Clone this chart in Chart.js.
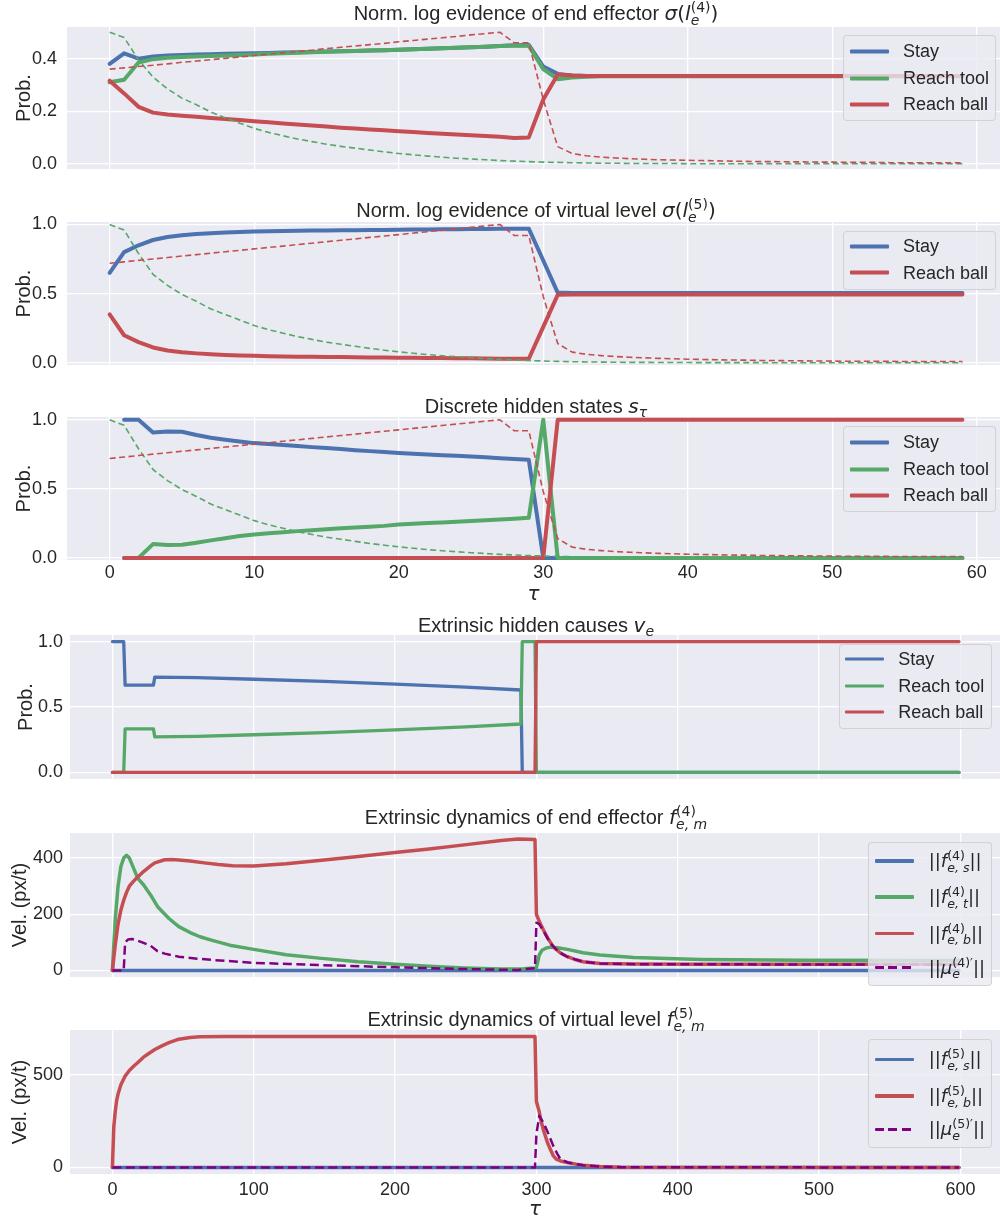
<!DOCTYPE html>
<html>
<head>
<meta charset="utf-8">
<title>Evidence, hidden states and dynamics</title>
<script src="https://cdn.jsdelivr.net/npm/chart.js@4.4.0/dist/chart.umd.min.js"></script>
<style>
  html, body { margin: 0; padding: 0; background: #fff; overflow: hidden; }
  #fig { position: relative; width: 1000px; height: 1218px; }
  canvas { position: absolute; left: 0; }
  .ttl {
    position: absolute; left: 536px; transform: translateX(-50%);
    white-space: nowrap; font: 20px 'Liberation Sans', Arial, sans-serif;
    line-height: 20px; color: #262626;
  }
  .m { font-family: 'DejaVu Sans', sans-serif; }
  .i { font-style: italic; }
  .ss { display: inline-grid; font-size: 70%; line-height: 1; }
  .ss > span { grid-area: 1 / 1; position: relative; }
  .ss .sp { top: -0.55em; }
  .ss .sb { top: 0.36em; }
  .sub1 { position: relative; top: 0.3em; font-size: 70%; line-height: 1; }
  .leg {
    position: absolute; box-sizing: border-box;
    background: rgba(234, 234, 242, 0.8);
    border: 1px solid rgba(204, 204, 204, 0.8); border-radius: 4px;
    font: 18px 'Liberation Sans', Arial, sans-serif; color: #262626;
  }
  .row { position: absolute; left: 0; display: flex; align-items: center; transform: translateY(-50%); white-space: nowrap; }
  .mk { width: 39px; border-radius: 1px; }
</style>
</head>
<body>
<div id="fig">
  <canvas id="c1" width="1000" height="166" style="top:15px"></canvas>
  <canvas id="c2" width="1000" height="167" style="top:210px"></canvas>
  <canvas id="c3" width="1000" height="202" style="top:405px"></canvas>
  <canvas id="c4" width="1000" height="168" style="top:623px"></canvas>
  <canvas id="c5" width="1000" height="168" style="top:821px"></canvas>
  <canvas id="c6" width="1000" height="204" style="top:1018px"></canvas>

  <div class="ttl" style="top:3px">Norm. log evidence of end effector <span class="m"><span class="i">σ</span>(<span class="i">l</span><span class="ss"><span class="sp">(4)</span><span class="sb i">e</span></span>)</span></div>
  <div class="ttl" style="top:199.5px">Norm. log evidence of virtual level <span class="m"><span class="i">σ</span>(<span class="i">l</span><span class="ss"><span class="sp">(5)</span><span class="sb i">e</span></span>)</span></div>
  <div class="ttl" style="top:396px">Discrete hidden states <span class="m"><span class="i">s</span><span class="sub1 i">τ</span></span></div>
  <div class="ttl" style="top:614.7px">Extrinsic hidden causes <span class="m"><span class="i">v</span><span class="sub1 i">e</span></span></div>
  <div class="ttl" style="top:807px">Extrinsic dynamics of end effector <span class="m"><span class="i">f</span><span class="ss"><span class="sp">(4)</span><span class="sb i">e, m</span></span></span></div>
  <div class="ttl" style="top:1009px">Extrinsic dynamics of virtual level <span class="m"><span class="i">f</span><span class="ss"><span class="sp">(5)</span><span class="sb i">e, m</span></span></span></div>

  <div id="legends"></div>
</div>

<script>
// colours (seaborn "deep")
var BLUE = '#4C72B0', GREEN = '#55A868', RED = '#C44E52', PURPLE = '#800080';
var INK = '#262626';
var FONT = "'Liberation Sans', Arial, sans-serif";

// tick positions
var tauTicksShort = [0, 10, 20, 30, 40, 50, 60];
var tauTicksLong = [0, 100, 200, 300, 400, 500, 600];
var probTicksLow = [0, 0.2, 0.4];
var probTicks = [0, 0.5, 1];
var velTicks4 = [0, 200, 400];
var velTicks5 = [0, 500];

// ---------- panels 1-3: tau = 0..59 ----------
var tauShort = [0,1,2,3,4,5,6,7,8,9,10,11,12,13,14,15,16,17,18,19,20,21,22,23,24,25,26,27,28,29,
  30,31,32,33,34,35,36,37,38,39,40,41,42,43,44,45,46,47,48,49,50,51,52,53,54,55,56,57,58,59];

// panel 1: norm. log evidence of end effector
var stay1 = [0.38,0.42,0.40,0.408,0.412,0.414,0.416,0.417,0.418,0.419,
  0.42,0.421,0.423,0.424,0.425,0.427,0.428,0.429,0.431,0.432,
  0.434,0.436,0.437,0.439,0.441,0.443,0.445,0.448,0.451,0.452,
  0.37,0.342,0.336,0.334,0.334,0.334,0.334,0.334,0.334,0.334,
  0.334,0.334,0.334,0.334,0.334,0.334,0.334,0.334,0.334,0.334,
  0.334,0.334,0.334,0.334,0.334,0.334,0.334,0.334,0.334,0.334];
var tool1 = [0.31,0.32,0.385,0.398,0.403,0.406,0.408,0.41,0.412,0.414,
  0.416,0.418,0.42,0.422,0.424,0.426,0.428,0.429,0.431,0.432,
  0.434,0.436,0.437,0.439,0.441,0.443,0.445,0.448,0.45,0.449,
  0.36,0.322,0.328,0.331,0.333,0.333,0.333,0.333,0.333,0.333,
  0.333,0.333,0.333,0.333,0.333,0.333,0.333,0.333,0.333,0.333,
  0.333,0.333,0.333,0.333,0.333,0.333,0.333,0.333,0.333,0.333];
var ball1 = [0.316,0.268,0.217,0.195,0.188,0.183,0.179,0.175,0.171,0.167,
  0.162,0.158,0.154,0.150,0.146,0.142,0.138,0.135,0.131,0.128,
  0.124,0.121,0.118,0.115,0.112,0.109,0.106,0.103,0.099,0.101,
  0.245,0.340,0.336,0.334,0.334,0.334,0.334,0.334,0.334,0.334,
  0.334,0.334,0.334,0.334,0.334,0.334,0.334,0.334,0.334,0.334,
  0.334,0.334,0.334,0.334,0.334,0.334,0.334,0.334,0.334,0.334];
var toolDash1 = [0.50,0.48,0.395,0.33,0.285,0.25,0.225,0.197,0.175,0.155,
  0.135,0.12,0.107,0.095,0.085,0.075,0.067,0.06,0.053,0.046,
  0.04,0.035,0.03,0.026,0.022,0.019,0.016,0.013,0.011,0.009,
  0.007,0.006,0.005,0.004,0.003,0.003,0.002,0.002,0.002,0.002,
  0.001,0.001,0.001,0.001,0.001,0.001,0.001,0.001,0.001,0.001,
  0.001,0.001,0.001,0.001,0.001,0.001,0.001,0.001,0.001,0.001];
var ballDash1 = [0.36,0.365,0.37,0.375,0.38,0.386,0.391,0.396,0.401,0.406,
  0.412,0.417,0.422,0.427,0.432,0.438,0.443,0.448,0.453,0.458,
  0.464,0.469,0.474,0.479,0.484,0.49,0.495,0.50,0.46,0.46,
  0.245,0.066,0.04,0.031,0.026,0.023,0.02,0.018,0.016,0.015,
  0.014,0.013,0.012,0.011,0.01,0.009,0.009,0.008,0.008,0.007,
  0.007,0.006,0.006,0.006,0.005,0.005,0.005,0.005,0.005,0.005];

// panel 2: norm. log evidence of virtual level
var stay2 = [0.65,0.80,0.85,0.888,0.91,0.923,0.931,0.937,0.942,0.946,
  0.949,0.951,0.953,0.955,0.956,0.957,0.958,0.959,0.96,0.961,
  0.962,0.963,0.964,0.965,0.966,0.967,0.968,0.969,0.969,0.97,
  0.74,0.508,0.505,0.505,0.505,0.505,0.505,0.505,0.505,0.505,
  0.505,0.505,0.505,0.505,0.505,0.505,0.505,0.505,0.505,0.505,
  0.505,0.505,0.505,0.505,0.505,0.505,0.505,0.505,0.505,0.505];
var ball2 = [0.35,0.20,0.15,0.112,0.09,0.077,0.069,0.063,0.058,0.054,
  0.051,0.049,0.047,0.045,0.044,0.043,0.042,0.041,0.04,0.039,
  0.038,0.037,0.036,0.035,0.034,0.033,0.032,0.031,0.031,0.03,
  0.26,0.492,0.495,0.495,0.495,0.495,0.495,0.495,0.495,0.495,
  0.495,0.495,0.495,0.495,0.495,0.495,0.495,0.495,0.495,0.495,
  0.495,0.495,0.495,0.495,0.495,0.495,0.495,0.495,0.495,0.495];

// dashed reference curves shared by panels 2 and 3
var toolDash = [1.0,0.96,0.79,0.64,0.56,0.495,0.445,0.39,0.35,0.31,
  0.27,0.24,0.215,0.19,0.17,0.15,0.135,0.12,0.105,0.092,
  0.08,0.07,0.06,0.052,0.045,0.038,0.032,0.026,0.021,0.017,
  0.014,0.011,0.009,0.007,0.006,0.005,0.004,0.004,0.003,0.003,
  0.003,0.002,0.002,0.002,0.002,0.002,0.001,0.001,0.001,0.001,
  0.001,0.001,0.001,0.001,0.001,0.001,0.001,0.001,0.001,0.001];
var ballDash = [0.72,0.73,0.741,0.751,0.761,0.772,0.782,0.793,0.803,0.813,
  0.824,0.834,0.844,0.855,0.865,0.876,0.886,0.896,0.907,0.917,
  0.927,0.938,0.948,0.959,0.969,0.979,0.99,1.0,0.92,0.92,
  0.48,0.14,0.078,0.062,0.053,0.046,0.041,0.037,0.033,0.03,
  0.027,0.025,0.023,0.021,0.02,0.018,0.017,0.016,0.015,0.014,
  0.013,0.012,0.012,0.011,0.011,0.01,0.01,0.01,0.01,0.01];

// panel 3: discrete hidden states
var stay3 = [null,1.0,1.0,0.908,0.915,0.913,0.89,0.87,0.856,0.843,
  0.831,0.824,0.817,0.81,0.802,0.795,0.788,0.78,0.773,0.766,
  0.759,0.754,0.749,0.744,0.739,0.734,0.728,0.722,0.716,0.71,
  0,0,0,0,0,0,0,0,0,0, 0,0,0,0,0,0,0,0,0,0, 0,0,0,0,0,0,0,0,0,0];
var tool3 = [null,0,0,0.1,0.093,0.095,0.11,0.127,0.143,0.158,
  0.17,0.178,0.186,0.194,0.201,0.208,0.214,0.22,0.226,0.232,
  0.242,0.247,0.252,0.257,0.262,0.267,0.272,0.278,0.284,0.29,
  1.0,0,0,0,0,0,0,0,0,0, 0,0,0,0,0,0,0,0,0,0, 0,0,0,0,0,0,0,0,0,0];
var ball3 = [null,0,0,0,0,0,0,0,0,0, 0,0,0,0,0,0,0,0,0,0, 0,0,0,0,0,0,0,0,0,0,
  0,1,1,1,1,1,1,1,1,1, 1,1,1,1,1,1,1,1,1,1, 1,1,1,1,1,1,1,1,1,1];

// ---------- panels 4-6: tau = 0..599, read at the turning points ----------
// panel 4: extrinsic hidden causes
var stay4T = [0,8,9,29,30,60,100,150,200,250,289,290,599];
var stay4V = [1,1,0.667,0.667,0.728,0.725,0.712,0.695,0.675,0.652,0.63,0,0];
var tool4T = [0,8,9,29,30,60,100,150,200,250,289,290,299,300,599];
var tool4V = [0,0,0.333,0.333,0.272,0.275,0.288,0.305,0.325,0.348,0.37,1,1,0,0];
var ball4T = [0,299,300,599];
var ball4V = [0,0,1,1];

// panel 5: extrinsic dynamics of end effector
var fs4T = [0,599];
var fs4V = [0,0];
var ft4T = [0,2,4,6,8,10,12,14,18,22,27,32,40,47,55,62,70,83,100,123,148,174,200,224,249,275,
  290,295,299,300,302,304,307,310,315,322,333,345,369,416,487,599];
var ft4V = [0,180,300,370,400,410,400,376,328,305,269,227,185,156,135,120,108,90,75,56,43,31,22,15,9,5,
  5,8,9,10,55,72,80,83,81,75,63,55,46,39,36,35];
var fb4T = [0,2,4,6,8,10,12,15,17,22,27,30,37,42,47,55,65,75,85,100,123,148,174,200,224,249,275,287,299,
  300,302,305,308,312,317,322,328,333,345,370,420,599];
var fb4V = [0,90,165,215,250,278,300,318,328,352,372,383,394,395,393,390,383,377,373,372,380,392,406,420,432,447,463,468,466,
  200,175,144,115,84,62,49,38,31,25,23,22,22];
var mu4T = [0,8,9,11,14,17,22,27,32,37,47,60,72,100,125,148,175,200,225,249,270,287,292,299,
  300,302,305,310,316,322,333,345,370,599];
var mu4V = [0,0,100,110,112,108,98,88,68,60,49,42,37,27,23,19,15,11,8,5,3,1.5,5,8,
  170,165,140,96,65,48,31,25,22,21];

// panel 6: extrinsic dynamics of virtual level
var fs5T = [0,599];
var fs5V = [0,0];
var fb5T = [0,1,2,3,4,6,9,12,15,18,22,26,30,35,40,47,55,62,80,299,
  300,302,303,305,308,310,312,314,317,322,328,333,345,360,599];
var fb5V = [0,220,300,360,395,445,492,522,545,565,594,615,635,655,672,691,700,704,705,705,
  355,300,260,200,130,95,62,45,35,27,18,12,5,1,0];
var mu5T = [0,299,300,302,305,308,312,315,317,322,328,333,345,360,599];
var mu5V = [0,0,180,278,240,190,115,70,44,27,18,12,5,1,0];

// ---------- helpers ----------
function pts(T, V) {
  return T.map(function(t, i) { return {x: t, y: V[i]}; });
}
function line(label, T, V, color, width, dash, order) {
  return {
    label: label, data: pts(T, V), borderColor: color, backgroundColor: color,
    borderWidth: width, borderDash: dash || [], order: order,
    pointRadius: 0, tension: 0, fill: false, spanGaps: false,
    borderJoinStyle: 'round', borderCapStyle: dash ? 'butt' : 'round'
  };
}
function fixTicks(list) {
  return function(s) { s.ticks = list.map(function(v) { return {value: v}; }); };
}

var bgPlugin = {
  id: 'axbg',
  beforeDraw: function(chart) {
    var a = chart.chartArea, c = chart.ctx;
    c.save();
    c.fillStyle = '#EAEAF2';
    c.fillRect(a.left, a.top, a.right - a.left, a.bottom - a.top);
    c.restore();
  }
};

function panel(id, o) {
  var xTicks = o.xLabels;
  return new Chart(document.getElementById(id), {
    type: 'line',
    data: {datasets: o.sets},
    options: {
      responsive: false, animation: false, events: [],
      layout: {padding: {top: 12, bottom: xTicks ? 0 : 12, left: 0, right: 0}},
      plugins: {legend: {display: false}, title: {display: false}, tooltip: {enabled: false}},
      scales: {
        x: {
          type: 'linear', min: o.xmin, max: o.xmax,
          afterBuildTicks: fixTicks(o.xTickList),
          afterFit: function(s) { s.height = o.xHeight || 0; s.paddingLeft = 0; s.paddingRight = 0; },
          ticks: {display: !!xTicks, padding: o.xPad || 2,
            color: INK, font: {family: FONT, size: 18}, maxRotation: 0,
            callback: function(v) { return String(v); }},
          grid: {color: '#ffffff', lineWidth: 1.3, drawTicks: false},
          border: {display: false},
          title: {display: !!xTicks, text: 'τ', color: INK,
            font: {family: 'DejaVu Sans', size: 20, style: 'italic'}, padding: {top: 0, bottom: o.xTitlePad || 0}}
        },
        y: {
          type: 'linear', min: o.ymin, max: o.ymax,
          afterBuildTicks: fixTicks(o.yTickList),
          afterFit: function(s) { s.width = o.yWidth; s.paddingTop = 0; s.paddingBottom = 0; },
          ticks: {padding: o.yPad, color: INK, font: {family: FONT, size: 18},
            callback: function(v) { return v.toFixed(o.yDec); }},
          grid: {color: '#ffffff', lineWidth: 1.3, drawTicks: false},
          border: {display: false},
          title: {display: true, text: o.yTitle, color: INK,
            font: {family: FONT, size: 20}, padding: {top: o.yTitlePad, bottom: 0}}
        }
      }
    },
    plugins: [bgPlugin]
  });
}

var upper = {xmin: -2.95, xmax: 61.6, xTickList: tauTicksShort, yWidth: 67, yPad: 10, yTitle: 'Prob.', yTitlePad: 12, yDec: 1};
var lower = {xmin: -30, xmax: 628, xTickList: tauTicksLong, yWidth: 70, yPad: 7};
function merge(a, b) { var r = {}; for (var k in a) r[k] = a[k]; for (var k2 in b) r[k2] = b[k2]; return r; }

var T60 = tauShort;
panel('c1', merge(upper, {ymin: -0.019, ymax: 0.52, yTickList: probTicksLow, sets: [
  line('Stay', T60, stay1, BLUE, 4, null, 5),
  line('Reach tool', T60, tool1, GREEN, 4, null, 4),
  line('Reach ball', T60, ball1, RED, 4, null, 3),
  line('tool ref', T60, toolDash1, GREEN, 1.6, [6, 3.5], 2),
  line('ball ref', T60, ballDash1, RED, 1.6, [6, 3.5], 1)
]}));

panel('c2', merge(upper, {ymin: -0.015, ymax: 1.018, yTickList: probTicks, sets: [
  line('Stay', T60, stay2, BLUE, 4, null, 5),
  line('Reach ball', T60, ball2, RED, 4, null, 3),
  line('tool ref', T60, toolDash, GREEN, 1.6, [6, 3.5], 2),
  line('ball ref', T60, ballDash, RED, 1.6, [6, 3.5], 1)
]}));

panel('c3', merge(upper, {ymin: -0.015, ymax: 1.02, yTickList: probTicks, xLabels: true, xHeight: 47, xPad: 2, sets: [
  line('Stay', T60, stay3, BLUE, 4, null, 5),
  line('Reach tool', T60, tool3, GREEN, 4, null, 4),
  line('Reach ball', T60, ball3, RED, 4, null, 3),
  line('tool ref', T60, toolDash, GREEN, 1.6, [6, 3.5], 2),
  line('ball ref', T60, ballDash, RED, 1.6, [6, 3.5], 1)
]}));

panel('c4', merge(lower, {ymin: -0.05, ymax: 1.05, yTickList: probTicks, yDec: 1, yTitle: 'Prob.', yTitlePad: 14, sets: [
  line('Stay', stay4T, stay4V, BLUE, 3.3, null, 5),
  line('Reach tool', tool4T, tool4V, GREEN, 3.3, null, 4),
  line('Reach ball', ball4T, ball4V, RED, 3.3, null, 3)
]}));

panel('c5', merge(lower, {ymin: -23.3, ymax: 489.3, yTickList: velTicks4, yDec: 0, yTitle: 'Vel. (px/t)', yTitlePad: 8, sets: [
  line('f_es', fs4T, fs4V, BLUE, 3.5, null, 5),
  line('f_et', ft4T, ft4V, GREEN, 3.5, null, 4),
  line('f_eb', fb4T, fb4V, RED, 3.5, null, 3),
  line('mu_e', mu4T, mu4V, PURPLE, 2.5, [9, 4.5], 1)
]}));

panel('c6', merge(lower, {ymin: -35.25, ymax: 740.25, yTickList: velTicks5, yDec: 0, yTitle: 'Vel. (px/t)', yTitlePad: 8,
  xLabels: true, xHeight: 48, xPad: 5, sets: [
  line('f_es', fs5T, fs5V, BLUE, 3.5, null, 5),
  line('f_eb', fb5T, fb5V, RED, 3.5, null, 3),
  line('mu_e', mu5T, mu5V, PURPLE, 2.5, [9, 4.5], 1)
]}));

// ---------- legends (HTML, drawn over the axes) ----------
function fLabel(sup, sub) {
  return '<span class="m">||<span class="i">f</span><span class="ss"><span class="sp">(' + sup + ')</span>' +
    '<span class="sb i">' + sub + '</span></span>||</span>';
}
function muLabel(sup) {
  return '<span class="m">||<span class="i">μ</span><span class="ss"><span class="sp">(' + sup + ')′</span>' +
    '<span class="sb i">e</span></span>||</span>';
}
var legends = [
  {box: [843, 35, 153, 86], line: 6, text: 59, lw: 4, rows: [
    [15, BLUE, 'Stay'], [42, GREEN, 'Reach tool'], [68, RED, 'Reach ball']]},
  {box: [843, 231, 153, 59], line: 6, text: 59, lw: 4, rows: [
    [14.3, BLUE, 'Stay'], [40.7, RED, 'Reach ball']]},
  {box: [843, 426, 153, 86], line: 6, text: 59, lw: 4, rows: [
    [15, BLUE, 'Stay'], [42, GREEN, 'Reach tool'], [68, RED, 'Reach ball']]},
  {box: [838.7, 644.3, 153.3, 84.7], line: 5.6, text: 58.6, lw: 3.3, rows: [
    [14, BLUE, 'Stay'], [40.7, GREEN, 'Reach tool'], [66.7, RED, 'Reach ball']]},
  {box: [868, 841.7, 124, 144.3], line: 6, text: 59.7, lw: 3.5, rows: [
    [18.3, BLUE, fLabel(4, 'e, s')], [54.3, GREEN, fLabel(4, 'e, t')],
    [91, RED, fLabel(4, 'e, b')], [125, PURPLE, muLabel(4), true]]},
  {box: [868, 1039, 124, 109], line: 6, text: 59.7, lw: 3.5, rows: [
    [19.3, BLUE, fLabel(5, 'e, s')], [56, RED, fLabel(5, 'e, b')], [89.3, PURPLE, muLabel(5), true]]}
];
var holder = document.getElementById('legends');
legends.forEach(function(L) {
  var box = document.createElement('div');
  box.className = 'leg';
  box.style.left = L.box[0] + 'px'; box.style.top = L.box[1] + 'px';
  box.style.width = L.box[2] + 'px'; box.style.height = L.box[3] + 'px';
  L.rows.forEach(function(r) {
    var row = document.createElement('div');
    row.className = 'row';
    row.style.top = r[0] + 'px';
    var mk = document.createElement('div');
    mk.className = 'mk';
    mk.style.marginLeft = L.line + 'px';
    mk.style.height = (r[3] ? 2.5 : L.lw) + 'px';
    mk.style.background = r[3]
      ? 'repeating-linear-gradient(to right,' + r[1] + ' 0 9px, transparent 9px 13.5px)'
      : r[1];
    var tx = document.createElement('span');
    tx.style.marginLeft = (L.text - L.line - 39) + 'px';
    tx.innerHTML = r[2];
    row.appendChild(mk); row.appendChild(tx);
    box.appendChild(row);
  });
  holder.appendChild(box);
});
</script>
</body>
</html>
